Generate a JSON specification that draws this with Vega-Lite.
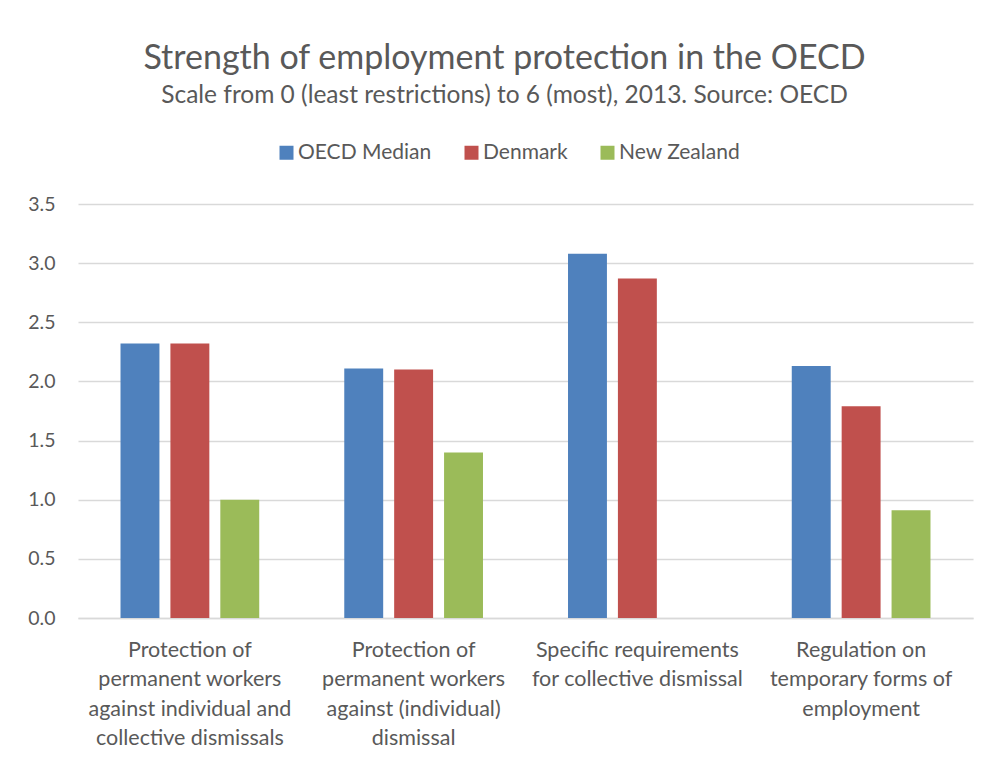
{
  "$schema": "https://vega.github.io/schema/vega-lite/v6.json",
  "autosize": {"type": "none"},
  "padding": {"left": 78, "top": 204, "right": 15, "bottom": 142},
  "width": 895,
  "height": 414,
  "background": "white",
  "title": {
    "text": "Strength of employment protection in the OECD",
    "subtitle": "Scale from 0 (least restrictions) to 6 (most), 2013. Source: OECD",
    "anchor": "middle",
    "dx": -21,
    "offset": 35,
    "font": "Lato",
    "fontSize": 34,
    "fontWeight": "normal",
    "color": "#595959",
    "subtitleFont": "Lato",
    "subtitleFontSize": 24.5,
    "subtitleColor": "#595959",
    "subtitlePadding": 8
  },
  "data": {
    "values": [
      {"category": "Protection of|permanent workers|against individual and|collective dismissals", "series": "OECD Median", "value": 2.32},
      {"category": "Protection of|permanent workers|against individual and|collective dismissals", "series": "Denmark", "value": 2.32},
      {"category": "Protection of|permanent workers|against individual and|collective dismissals", "series": "New Zealand", "value": 1.0},
      {"category": "Protection of|permanent workers|against (individual)|dismissal", "series": "OECD Median", "value": 2.11},
      {"category": "Protection of|permanent workers|against (individual)|dismissal", "series": "Denmark", "value": 2.1},
      {"category": "Protection of|permanent workers|against (individual)|dismissal", "series": "New Zealand", "value": 1.4},
      {"category": "Specific requirements|for collective dismissal", "series": "OECD Median", "value": 3.08},
      {"category": "Specific requirements|for collective dismissal", "series": "Denmark", "value": 2.87},
      {"category": "Specific requirements|for collective dismissal", "series": "New Zealand", "value": 0},
      {"category": "Regulation on|temporary forms of|employment", "series": "OECD Median", "value": 2.13},
      {"category": "Regulation on|temporary forms of|employment", "series": "Denmark", "value": 1.79},
      {"category": "Regulation on|temporary forms of|employment", "series": "New Zealand", "value": 0.91}
    ]
  },
  "mark": {"type": "bar"},
  "encoding": {
    "x": {
      "field": "category",
      "type": "nominal",
      "sort": null,
      "scale": {"paddingInner": 0.38, "paddingOuter": 0.19},
      "axis": {
        "title": null,
        "labelAngle": 0,
        "labelExpr": "split(datum.label, '|')",
        "labelFont": "Lato",
        "labelFontSize": 21.5,
        "labelColor": "#595959",
        "labelLineHeight": 29.5,
        "labelPadding": 21,
        "labelLimit": 400,
        "ticks": false,
        "domainColor": "#d9d9d9",
        "domainWidth": 1.3
      }
    },
    "xOffset": {
      "field": "series",
      "type": "nominal",
      "sort": ["OECD Median", "Denmark", "New Zealand"],
      "scale": {"paddingInner": 0.22, "paddingOuter": 0}
    },
    "y": {
      "field": "value",
      "type": "quantitative",
      "scale": {"domain": [0, 3.5], "nice": false},
      "axis": {
        "title": null,
        "values": [0, 0.5, 1, 1.5, 2, 2.5, 3, 3.5],
        "format": ".1f",
        "labelFont": "Lato",
        "labelFontSize": 19.5,
        "labelColor": "#595959",
        "labelPadding": 23,
        "ticks": false,
        "domain": false,
        "gridColor": "#d9d9d9",
        "gridWidth": 1.3
      }
    },
    "color": {
      "field": "series",
      "type": "nominal",
      "sort": ["OECD Median", "Denmark", "New Zealand"],
      "scale": {"domain": ["OECD Median", "Denmark", "New Zealand"], "range": ["#4f81bd", "#c0504d", "#9bbb59"]},
      "legend": {
        "title": null,
        "orient": "none",
        "direction": "horizontal",
        "legendX": 198,
        "legendY": -62,
        "symbolType": "square",
        "symbolSize": 196,
        "symbolStrokeWidth": 0,
        "symbolOpacity": 1,
        "labelFont": "Lato",
        "labelFontSize": 21,
        "labelColor": "#595959",
        "labelOffset": 1,
        "columnPadding": 29,
        "labelLimit": 300
      }
    }
  },
  "config": {
    "view": {"stroke": null}
  }
}
